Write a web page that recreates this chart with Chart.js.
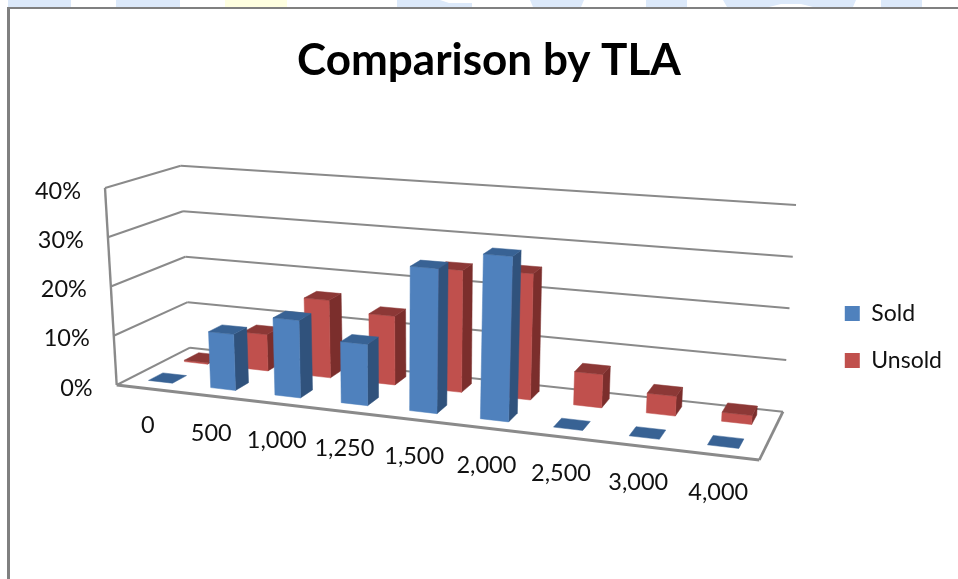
<!DOCTYPE html>
<html>
<head>
<meta charset="utf-8">
<title>Comparison by TLA</title>
<script src="https://cdn.jsdelivr.net/npm/chart.js@4"></script>
<style>
  html, body { margin: 0; padding: 0; background: #fff; overflow: hidden; }
  #page { position: relative; width: 958px; height: 579px; }
  #frame { position: absolute; left: 7px; top: 7px; right: 0; bottom: 0; border-left: 3px solid #808080; border-top: 2px solid #808080; }
  .patch { position: absolute; top: 0; height: 7px; background: #dce9fa; }
  .patch.yellow { background: #ffffe0; }
  canvas { position: absolute; left: 0; top: 0; }
</style>
</head>
<body>
<div id="page">
  <div class="patch" style="left:8px;width:63px"></div>
  <div class="patch" style="left:116px;width:64px"></div>
  <div class="patch yellow" style="left:225px;width:62px"></div>
  <div class="patch" style="left:397px;width:75px;clip-path:polygon(0 0,43px 0,52px 3px,75px 3px,75px 7px,0 7px)"></div>
  <div class="patch" style="left:530px;width:54px;clip-path:polygon(0 0,54px 0,51px 7px,3px 7px)"></div>
  <div class="patch" style="left:646px;width:41px"></div>
  <div class="patch" style="left:723px;width:133px;clip-path:polygon(0 0,133px 0,130px 7px,90px 7px,78px 4px,58px 4px,46px 7px,4px 7px)"></div>
  <div class="patch" style="left:881px;width:41px"></div>
  <div id="frame"></div>
  <canvas id="tlaChart" width="958" height="579"></canvas>
</div>
<script>
const categories = ["0", "500", "1,000", "1,250", "1,500", "2,000", "2,500", "3,000", "4,000"];
const soldValues = [0, 11.3, 15.4, 12, 28, 31.5, 0, 0, 0];
const unsoldValues = [0.3, 7.6, 16, 14, 24.5, 25, 6.5, 3.8, 1.7];
const yTicks = [0, 10, 20, 30, 40];

// Corners of the 3D plot box on screen (f = front, b = back, l/r, 0 = floor, 1 = top)
const box = {
  fl0: [116.7, 385], fr0: [759.3, 460], bl0: [190, 347.7], br0: [783, 411.7],
  fl1: [105, 188], fr1: [776, 236], bl1: [180.7, 165.7], br1: [796, 205],
};
const perspective = 1.16; // category spacing grows toward the right
const rows = [[0.18, 0.38], [0.68, 0.88]]; // depth range of the Sold and Unsold rows

const shades = [
  { front: "#4f81bd", side: "#30527c", top: "#386294" },
  { front: "#c0504d", side: "#7b2e2c", top: "#8c3836" },
];

function mix(a, b, t) {
  return [a[0] + (b[0] - a[0]) * t, a[1] + (b[1] - a[1]) * t];
}

// u along categories, v up the value axis, w into the depth, all 0..1
function project(u, v, w) {
  const t = u / (u + (1 - u) * perspective);
  const floor = mix(mix(box.fl0, box.fr0, t), mix(box.bl0, box.br0, t), w);
  const top = mix(mix(box.fl1, box.fr1, t), mix(box.bl1, box.br1, t), w);
  return mix(floor, top, v);
}

function fillQuad(ctx, points, color) {
  ctx.beginPath();
  points.forEach((p, i) => (i ? ctx.lineTo(p[0], p[1]) : ctx.moveTo(p[0], p[1])));
  ctx.closePath();
  ctx.fillStyle = color;
  ctx.strokeStyle = color;
  ctx.lineWidth = 0.5;
  ctx.fill();
  ctx.stroke();
}

function strokeLine(ctx, a, b, width) {
  ctx.beginPath();
  ctx.moveTo(a[0], a[1]);
  ctx.lineTo(b[0], b[1]);
  ctx.lineWidth = width;
  ctx.strokeStyle = "#8a8a8a";
  ctx.stroke();
}

const box3d = {
  id: "box3d",
  beforeDatasetsDraw(chart) {
    const { ctx, chartArea: area, scales: { x, y } } = chart;
    ctx.save();
    // walls: one line per value tick, running along the side wall and back wall
    y.ticks.forEach((tick) => {
      const v = (area.bottom - y.getPixelForValue(tick.value)) / area.height;
      strokeLine(ctx, project(0, v, 0), project(0, v, 1), 2);
      strokeLine(ctx, project(0, v, 1), project(1, v, 1), 2);
    });
    strokeLine(ctx, project(0, 0, 0), project(0, 1, 0), 2.4);
    strokeLine(ctx, project(0, 0, 0), project(1, 0, 0), 2.8);
    strokeLine(ctx, project(1, 0, 0), project(1, 0, 1), 2.8);

    // tick labels follow the projected axes
    ctx.fillStyle = "#111";
    ctx.font = "23.5px Lato";
    ctx.textAlign = "right";
    ctx.textBaseline = "middle";
    y.ticks.forEach((tick) => {
      const v = (area.bottom - y.getPixelForValue(tick.value)) / area.height;
      const p = project(0, v, 0);
      ctx.fillText(tick.label, p[0] - 24, p[1] + 3);
    });
    ctx.textAlign = "center";
    x.ticks.forEach((tick, i) => {
      const u = (x.getPixelForTick(i) - area.left) / area.width;
      const p = project(u, 0, 0);
      ctx.fillText(tick.label, p[0], p[1] + 37);
    });
    ctx.restore();
  },
  beforeDatasetDraw(chart, args) {
    const { ctx, chartArea: area } = chart;
    const [w0, w1] = rows[args.index];
    const colors = shades[args.index];
    args.meta.data.forEach((bar) => {
      const { x, y, base, width } = bar.getProps(["x", "y", "base", "width"]);
      const u0 = (x - width / 2 - area.left) / area.width;
      const u1 = (x + width / 2 - area.left) / area.width;
      const v0 = (area.bottom - base) / area.height;
      const v1 = (area.bottom - y) / area.height;
      if (v1 > v0) {
        fillQuad(ctx, [project(u1, v0, w0), project(u1, v0, w1), project(u1, v1, w1), project(u1, v1, w0)], colors.side);
        fillQuad(ctx, [project(u0, v0, w0), project(u1, v0, w0), project(u1, v1, w0), project(u0, v1, w0)], colors.front);
      }
      fillQuad(ctx, [project(u0, v1, w0), project(u1, v1, w0), project(u1, v1, w1), project(u0, v1, w1)], colors.top);
    });
    return false; // faces are already painted, skip the flat bars
  },
};

new Chart(document.getElementById("tlaChart"), {
  type: "bar",
  data: {
    labels: categories,
    datasets: [
      { label: "Sold", data: soldValues, backgroundColor: shades[0].front, borderWidth: 0 },
      { label: "Unsold", data: unsoldValues, backgroundColor: shades[1].front, borderWidth: 0 },
    ],
  },
  options: {
    responsive: false,
    animation: false,
    grouped: false,
    barPercentage: 0.39,
    categoryPercentage: 1,
    layout: { padding: { top: 34, left: 26, right: 6, bottom: 183 } },
    plugins: {
      title: {
        display: true,
        text: "Comparison by TLA",
        color: "#000",
        font: { family: "Lato", size: 44, weight: "bold" },
        padding: { top: 0, bottom: 0 },
      },
      legend: {
        position: "right",
        align: "end",
        labels: {
          boxWidth: 15,
          boxHeight: 15,
          padding: 24,
          color: "#111",
          font: { family: "Lato", size: 23 },
        },
      },
      tooltip: { enabled: false },
    },
    scales: {
      x: { display: false, ticks: { autoSkip: false } },
      y: {
        display: false,
        min: yTicks[0],
        max: yTicks[yTicks.length - 1],
        ticks: {
          stepSize: yTicks[1] - yTicks[0],
          callback: function (value) {
            return value + "%";
          },
        },
      },
    },
  },
  plugins: [box3d],
});
</script>
</body>
</html>
